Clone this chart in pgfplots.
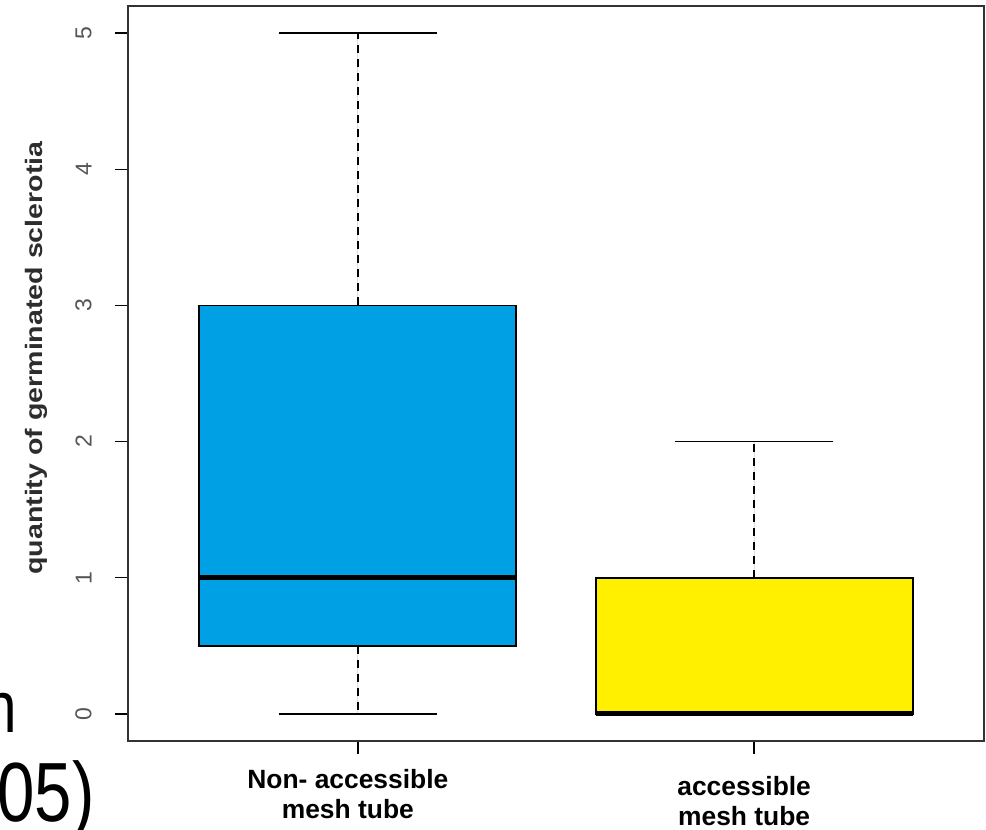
\documentclass[border=0pt]{standalone}
\usepackage{fontspec}
\setmainfont{Liberation Sans}
\usepackage{pgfplots}
\pgfplotsset{compat=1.18}
\usepgfplotslibrary{statistics}
\definecolor{boxblue}{RGB}{0,160,228}
\definecolor{boxyellow}{RGB}{255,240,0}
\definecolor{ticklab}{RGB}{85,85,85}
\definecolor{labgray}{RGB}{45,45,45}
\pgfplotsset{
  boxplot/draw direction=y,
  boxplot/every box/.style={draw=black, line width=0.9pt},
  boxplot/every median/.style={draw=black, line width=2.4pt},
  boxplot/draw/lower whisker/.code={%
    \draw[black, line width=0.8pt, dash pattern=on 4pt off 3pt]
      (boxplot cs:\pgfplotsboxplotvalue{lower quartile}) -- (boxplot cs:\pgfplotsboxplotvalue{lower whisker});
    \draw[black, line width=0.8pt, solid]
      (boxplot whisker cs:\pgfplotsboxplotvalue{lower whisker},0) -- (boxplot whisker cs:\pgfplotsboxplotvalue{lower whisker},1);
  },
  boxplot/draw/upper whisker/.code={%
    \draw[black, line width=0.8pt, dash pattern=on 4pt off 3pt]
      (boxplot cs:\pgfplotsboxplotvalue{upper quartile}) -- (boxplot cs:\pgfplotsboxplotvalue{upper whisker});
    \draw[black, line width=0.8pt, solid]
      (boxplot whisker cs:\pgfplotsboxplotvalue{upper whisker},0) -- (boxplot whisker cs:\pgfplotsboxplotvalue{upper whisker},1);
  },
}
\begin{document}
\begin{tikzpicture}[x=1pt,y=1pt]
\path[use as bounding box] (0,0) rectangle (493,415);
\begin{axis}[
  at={(64pt,44.5pt)}, anchor=south west,
  scale only axis, width=428pt, height=367.5pt,
  xmin=0.42, xmax=2.58, ymin=-0.2, ymax=5.2,
  xtick={1,2}, ytick={0,1,2,3,4,5},
  xticklabels={{Non- accessible\\mesh tube},{\rule{0pt}{13pt}accessible\\mesh tube}},
  xtick pos=bottom, ytick pos=left, tick align=outside, major tick length=6.5pt,
  tick style={black, line width=0.8pt},
  axis line style={draw=black!80, line width=0.8pt},
  /pgf/number format/assume math mode=true,
  yticklabel style={rotate=90, anchor=south, inner sep=0pt, font=\fontsize{11.5}{13}\selectfont, text=ticklab},
  yticklabel shift=11.5pt,
  xticklabel style={align=center, anchor=north, inner sep=0pt, font=\bfseries\fontsize{13.2}{15}\selectfont, xshift=-5pt},
  xticklabel shift=7.5pt,
  ylabel={\scalebox{1.2}[1]{quantity of germinated sclerotia}},
  ylabel style={at={(axis description cs:-0.1075,0.521)}, anchor=center, inner sep=0pt, font=\bfseries\fontsize{11.9}{14}\selectfont, text=labgray},
]
\addplot[fill=boxblue, draw=black, boxplot prepared={draw position=1, lower whisker=0, lower quartile=0.5, median=1, upper quartile=3, upper whisker=5, box extend=0.8, whisker extend=0.4}] coordinates {};
\addplot[fill=boxyellow, draw=black, boxplot prepared={draw position=2, lower whisker=0, lower quartile=0, median=0, upper quartile=1, upper whisker=2, box extend=0.8, whisker extend=0.4}] coordinates {};
\end{axis}
\node[anchor=base west, inner sep=0pt] at (-8,48.5) {\scalebox{0.8}[1]{\fontsize{36.5}{36.5}\selectfont n}};
\node[anchor=base west, inner sep=0pt] at (-1.5,4) {\scalebox{0.8}[1]{\fontsize{42}{42}\selectfont 05)}};
\end{tikzpicture}
\end{document}
